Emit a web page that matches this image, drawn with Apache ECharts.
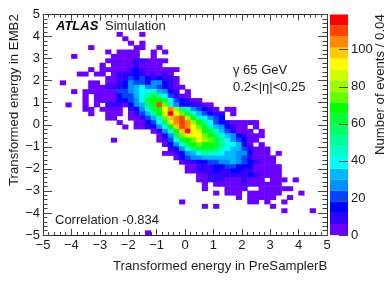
<!DOCTYPE html>
<html><head><meta charset="utf-8">
<style>html,body{margin:0;padding:0;background:#fff}#c{width:390px;height:281px}</style>
<script src="https://cdn.jsdelivr.net/npm/echarts@6/dist/echarts.min.js"></script>
</head><body><div id="c"></div>
<script>
// bin 0..49 along x (-5..5) and row 0..49 from the top (y 5..-5)
const firstCol = {4:13,5:14,6:15,7:8,8:11,9:5,10:11,11:10,12:8,13:6,14:11,15:3,16:8,17:5,18:7,19:7,20:4,21:7,22:8,23:11,24:13,25:14,26:19,27:20,28:12,29:21,30:22,31:21,32:23,33:24,34:25,35:25,36:27,37:27,38:28,39:28,40:30,41:34,42:24,43:28,44:42,49:18};
const rowCounts = {
4:[2,0,0,0,1],
5:[2],
6:[3,0,1],
7:[2,0,0,0,0,0,0,0,3,1,0,0,2],
8:[2,0,3,4,2,4,0,0,2,0,3],
9:[1,0,0,0,0,0,0,2,3,4,3,5,0,0,3],
10:[1,4,3,5,5,8,9,4,5,3,2],
11:[2,0,4,3,5,5,9,5,3,4,2],
12:[2,0,3,2,4,5,5,9,15,9,5,5,4,3,3,2],
13:[2,3,0,3,2,0,5,9,9,10,15,9,5,9,5,9,3],
14:[4,5,9,10,21,15,21,15,9,15,9,9,3],
15:[2,0,0,0,0,3,4,0,5,5,9,15,27,21,21,15,27,27,15,9,4],
16:[2,4,4,9,9,10,15,27,33,39,27,27,21,15,9,4,2],
17:[2,0,3,4,5,5,5,5,21,21,27,33,39,39,45,33,27,15,9,0,3],
18:[4,0,4,5,5,5,15,21,21,33,39,51,63,51,39,21,9,5,3],
19:[3,0,4,5,5,5,15,15,21,27,39,63,69,69,63,39,21,15,9,4,2],
20:[2,0,0,3,0,4,0,9,9,9,5,15,27,33,57,63,111,75,45,27,15,15,9,9,5,3],
21:[3,4,0,4,5,5,5,0,9,15,27,45,63,69,90,105,81,51,45,27,21,15,9,3,0,2,2],
22:[3,0,0,4,5,5,0,4,9,21,33,51,69,87,117,93,75,63,45,33,21,15,9,9,0,3],
23:[4,3,0,0,4,5,9,21,33,45,75,99,105,111,81,69,45,39,27,21,15],
24:[3,0,0,4,5,15,21,39,57,87,105,111,105,81,69,51,39,21,15,9,5,4,3,2,2],
25:[3,0,4,5,9,15,27,45,69,99,111,105,93,75,63,45,33,27,15,9,5,3,0,2],
26:[4,9,27,45,69,99,117,93,87,69,63,45,33,21,9,5,3,2,0,2],
27:[4,15,27,57,75,87,93,93,75,69,57,45,33,27,15,9,5,4,2],
28:[3,0,0,0,0,0,0,0,4,9,21,39,63,69,75,93,81,75,63,51,39,27,21,15,5,3],
29:[4,15,27,45,63,69,75,69,69,63,51,39,39,33,15,5,0,2],
30:[9,15,27,39,57,63,63,63,57,45,39,33,33,21,9,5,4,2],
31:[3,4,9,15,27,33,39,51,45,45,39,33,33,27,27,15,5,4,3,0,2],
32:[4,15,21,27,27,33,33,33,33,33,33,27,21,9,5,4,3,3],
33:[4,9,9,15,15,21,21,27,27,33,27,21,15,9,5,4,3],
34:[3,4,9,9,9,15,15,21,21,15,15,15,5,4,4,3,3],
35:[2,4,9,9,9,15,9,9,15,15,9,9,5,4,4,3,2],
36:[4,5,9,9,9,9,9,9,9,15,9,5,4,3,3],
37:[3,5,9,9,9,5,5,5,9,5,4,3,0,3,2,2,0,2],
38:[3,0,4,5,5,5,5,9,5,4,4,3,3,2],
39:[2,0,0,0,4,5,5,4,0,0,4,4,3,3,2,2],
40:[2,0,3,4,3,0,5,4,4,4,3,2,0,0,0,2],
41:[2,0,4,5,5,3,2,0,0,2],
42:[2,0,0,0,0,0,0,0,0,0,0,0,3,3,0,2,0,0,2],
43:[2,0,2,0,0,0,0,0,0,0,0,0,2],
44:[2,0,0,0,0,2],
49:[3]
};
const binLabels = Array.from({length:50},(_,i)=>String(i));
const paletteColors = ['#6a00ff','#3300ff','#0000ff','#0044ff','#0090ff','#00b8ff','#00ffff','#00ffcc','#00ff99','#00ff66','#00ff33','#00ff00','#66ff00','#99ff00','#ccff00','#ffff00','#ffcc00','#ff8800','#ff4400','#ff0000'];
const bandWidth = 5.95;
const colorTicks = [0,20,40,60,80,100];
const F = '"Liberation Sans", Helvetica, Arial, sans-serif';
const INK = '#1c1c1c';

const cells = [];
Object.keys(rowCounts).forEach(k=>{
  const j=+k, s=firstCol[j];
  rowCounts[j].forEach((v,n)=>{ if(v>0) cells.push([s+n,49-j,v]); });
});
const minus = v => String(v).replace('-','\u2212');
const vAxisCommon = (extra)=>Object.assign({
  type:'value',min:-5,max:5,interval:1,gridIndex:0,
  axisLine:{show:true,onZero:false,lineStyle:{color:'#222',width:1}},
  splitLine:{show:false},minorSplitLine:{show:false}
},extra);
const labelOn = {show:true,color:INK,fontFamily:F,fontSize:13,formatter:minus};
const labelOff = {show:false};

const barSeries = paletteColors.map(c=>({
  type:'bar',xAxisIndex:3,yAxisIndex:3,stack:'b',barWidth:'100%',silent:true,
  itemStyle:{color:c},data:[bandWidth]
}));

const chart = echarts.init(document.getElementById('c'),null,{renderer:'canvas'});
chart.setOption({
  animation:false,
  backgroundColor:'#fff',
  grid:[
    {left:43,top:14.5,width:284,height:220.5,show:false},
    {left:330,top:14.5,width:18,height:220.5,show:false}
  ],
  xAxis:[
    {type:'category',data:binLabels,gridIndex:0,show:false,boundaryGap:true},
    vAxisCommon({position:'bottom',axisLabel:Object.assign({},labelOn,{margin:4}),
      axisTick:{show:true,inside:true,length:6,lineStyle:{color:'#444'}},
      minorTick:{show:true,splitNumber:5,length:3,lineStyle:{color:'#444'}}}),
    vAxisCommon({position:'top',axisLabel:labelOff,
      axisTick:{show:true,inside:true,length:6,lineStyle:{color:'#444'}},
      minorTick:{show:true,splitNumber:5,length:3,lineStyle:{color:'#444'}}}),
    {type:'category',data:['c'],gridIndex:1,show:false}
  ],
  yAxis:[
    {type:'category',data:binLabels,gridIndex:0,show:false,boundaryGap:true},
    vAxisCommon({position:'left',axisLabel:Object.assign({},labelOn,{margin:3}),
      axisTick:{show:true,inside:true,length:9,lineStyle:{color:'#444'}},
      minorTick:{show:true,splitNumber:5,length:4.5,lineStyle:{color:'#444'}}}),
    vAxisCommon({position:'right',axisLabel:labelOff,
      axisTick:{show:true,inside:true,length:9,lineStyle:{color:'#444'}},
      minorTick:{show:true,splitNumber:5,length:4.5,lineStyle:{color:'#444'}}}),
    {type:'value',gridIndex:1,position:'right',min:0,max:bandWidth*paletteColors.length,
      axisLine:{show:false},splitLine:{show:false},
      axisTick:{show:true,inside:true,length:9,customValues:colorTicks,lineStyle:{color:'#444'}},
      axisLabel:{show:true,customValues:colorTicks,color:INK,fontFamily:F,fontSize:13,margin:3},z:10}
  ],
  visualMap:{show:false,type:'piecewise',seriesIndex:0,dimension:2,
    pieces:paletteColors.map((c,i)=>({min:i*bandWidth,max:(i+1)*bandWidth,color:c}))},
  series:[
    {type:'heatmap',xAxisIndex:0,yAxisIndex:0,data:cells,progressive:0,silent:true,itemStyle:{borderWidth:0}},
    ...barSeries
  ],
  graphic:[
    {type:'text',left:113,top:259.5,style:{text:'Transformed energy in PreSamplerB',font:'13.2px '+F,fill:INK}},
    {type:'text',x:14,y:186,rotation:Math.PI/2,style:{text:'Transformed energy in EMB2',font:'13.2px '+F,fill:INK,textAlign:'left',textVerticalAlign:'middle'}},
    {type:'text',x:380,y:155,rotation:Math.PI/2,style:{text:'Number of events / 0.04',font:'13.2px '+F,fill:INK,textAlign:'left',textVerticalAlign:'middle'}},
    {type:'text',left:56,top:20,style:{text:'ATLAS',font:'italic bold 13px '+F,fill:'#000'}},
    {type:'text',left:105,top:20,style:{text:'Simulation',font:'13px '+F,fill:INK}},
    {type:'text',left:233,top:64,style:{text:'\u03b3 65 GeV',font:'13px '+F,fill:INK}},
    {type:'text',left:233,top:81,style:{text:'0.2<|\u03b7|<0.25',font:'13px '+F,fill:INK}},
    {type:'text',left:55,top:214,style:{text:'Correlation -0.834',font:'13px '+F,fill:INK}}
  ]
});
</script></body></html>
